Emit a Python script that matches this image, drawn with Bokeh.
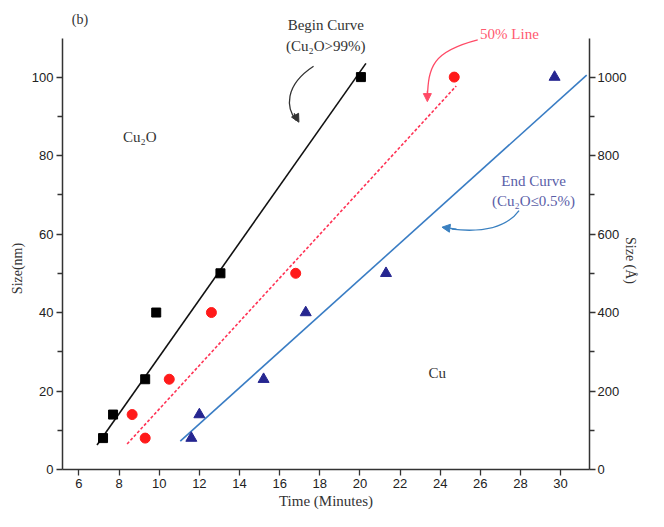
import numpy as np
from bokeh.plotting import figure
from bokeh.models import (Range1d, LinearAxis, FixedTicker, Label, Arrow, NormalHead)
from bokeh.embed import file_html
from bokeh.resources import INLINE

# ---- data ----
begin_t = [7.2, 7.7, 9.3, 9.85, 13.05, 20.05]
begin_size = [8, 14, 23, 40, 50, 100]
half_t = [8.65, 9.3, 10.5, 12.6, 16.8, 24.7]
half_size = [14, 8, 23, 40, 50, 100]
end_t = [11.6, 12.0, 15.2, 17.3, 21.3, 29.7]
end_size = [8, 14, 23, 40, 50, 100]

begin_fit_t = [6.9, 20.3]
begin_fit_size = [6.25, 103.5]
half_fit_t = [8.4, 24.8]
half_fit_size = [6.5, 97.75]
end_fit_t = [11.05, 31.3]
end_fit_size = [7.25, 100.5]

x_ticks = [6, 8, 10, 12, 14, 16, 18, 20, 22, 24, 26, 28, 30]
y_ticks = [0, 20, 40, 60, 80, 100]
y_minor = [10, 30, 50, 70, 90]
ang_ticks = [0, 200, 400, 600, 800, 1000]
ang_minor = [100, 300, 500, 700, 900]

SERIF = "Liberation Serif"
SANS = "Liberation Sans"
AX = "#333333"
NB = "\u00a0"

Y_TOP = 118.5      # frame reaches the top so that top notes are not clipped
Y_AXIS_END = 109.75

p = figure(width=648, height=511, output_backend="svg", toolbar_location=None,
           x_range=Range1d(5.18, 31.44), y_range=Range1d(0, Y_TOP),
           min_border_left=62, min_border_right=40, min_border_top=4, min_border_bottom=40)
p.outline_line_color = None
p.xgrid.visible = False
p.ygrid.visible = False
p.background_fill_color = "white"
p.extra_y_ranges = {"ang": Range1d(0, Y_TOP * 10)}

def style_axis(ax):
    ax.axis_line_color = AX
    ax.axis_line_width = 1.5
    ax.major_tick_line_color = AX
    ax.minor_tick_line_color = AX
    ax.major_tick_line_width = 1.3
    ax.minor_tick_line_width = 1.3
    ax.major_tick_in = 0
    ax.major_tick_out = 6
    ax.minor_tick_in = 0
    ax.minor_tick_out = 5
    ax.major_label_text_font = SANS
    ax.major_label_text_font_size = "13px"
    ax.major_label_text_color = "#222222"
    ax.major_label_standoff = 3
    ax.axis_label_text_font = SERIF
    ax.axis_label_text_font_style = "normal"
    ax.axis_label_text_color = "#333333"

xa = p.xaxis[0]
style_axis(xa)
xa.ticker = FixedTicker(ticks=x_ticks)
xa.axis_label = "Time (Minutes)"
xa.axis_label_text_font_size = "15px"
xa.axis_label_standoff = 2

ya = p.yaxis[0]
style_axis(ya)
ya.ticker = FixedTicker(ticks=y_ticks, minor_ticks=y_minor)
ya.bounds = (0, Y_AXIS_END)
ya.axis_label = "Size(nm)" + NB * 18
ya.axis_label_text_font_size = "14px"
ya.axis_label_standoff = 4

ra = LinearAxis(y_range_name="ang", ticker=FixedTicker(ticks=ang_ticks, minor_ticks=ang_minor))
style_axis(ra)
ra.bounds = (0, Y_AXIS_END * 10)
ra.major_label_standoff = 2
ra.axis_label = "Size (\u00c5)" + NB * 26
ra.axis_label_text_font_size = "14px"
ra.axis_label_standoff = 1
if "axis_label_orientation" in ra.properties():
    ra.axis_label_orientation = -np.pi / 2
p.add_layout(ra, "right")

# fitted curves
p.line(begin_fit_t, begin_fit_size, line_color="#111111", line_width=1.6)
p.line(half_fit_t, half_fit_size, line_color="#ff3355", line_width=1.6, line_dash="3 2")
p.line(end_fit_t, end_fit_size, line_color="#3a7dc4", line_width=1.6)

# data points
p.scatter(begin_t, begin_size, marker="square", size=9, fill_color="black", line_color="black")
p.scatter(half_t, half_size, marker="circle", size=10, fill_color="#ff1a1a", line_color="#ff1a1a")
p.scatter(end_t, end_size, marker="triangle", size=11, fill_color="#262690", line_color="#262690")

def lab(x, y, t, color="#333333", size="15px", align="center"):
    p.add_layout(Label(x=x, y=y, text=t, text_font=SERIF, text_font_size=size,
                       text_color=color, text_align=align, text_baseline="middle"))

lab(6.05, 114.8, "(b)", size="14px")
lab(18.3, 113.4, "Begin Curve", size="15px")
lab(18.3, 107.9, "(Cu\u2082O>99%)", size="15px")
lab(27.45, 111.0, "50% Line", color="#ff5a70", size="15px")
lab(9.03, 84.75, "Cu\u2082O", size="15px")
lab(28.65, 73.5, "End Curve", color="#5a5ea8", size="15px")
lab(28.65, 68.3, "(Cu\u2082O\u22640.5%)", color="#5a5ea8", size="15px")
lab(23.85, 24.5, "Cu", size="15px")

# curved arrows
p.bezier(x0=[17.69], y0=[102.75], x1=[16.82], y1=[89.0],
         cx0=[16.2], cy0=[97.75], cx1=[16.34], cy1=[92.0], line_color="#333333", line_width=1.3)
p.add_layout(Arrow(end=NormalHead(size=8, fill_color="#333333", line_color="#333333"),
                   x_start=16.72, y_start=90.75, x_end=16.96, y_end=88.5,
                   line_color="#333333", line_width=1.3))
p.bezier(x0=[25.87], y0=[109.5], x1=[23.36], y1=[94.5],
         cx0=[23.6], cy0=[106.5], cx1=[23.41], cy1=[102.75], line_color="#ff4a66", line_width=1.3)
p.add_layout(Arrow(end=NormalHead(size=8, fill_color="#ff4a66", line_color="#ff4a66"),
                   x_start=23.36, y_start=96.5, x_end=23.36, y_end=93.75,
                   line_color="#ff4a66", line_width=1.3))
p.bezier(x0=[27.93], y0=[66.0], x1=[24.57], y1=[61.25],
         cx0=[27.36], cy0=[62.0], cx1=[26.25], cy1=[60.25], line_color="#3a80c0", line_width=1.3)
p.add_layout(Arrow(end=NormalHead(size=8, fill_color="#3a80c0", line_color="#3a80c0"),
                   x_start=24.81, y_start=61.25, x_end=24.09, y_end=61.75,
                   line_color="#3a80c0", line_width=1.3))

open("out.html", "w").write(file_html(p, INLINE))
